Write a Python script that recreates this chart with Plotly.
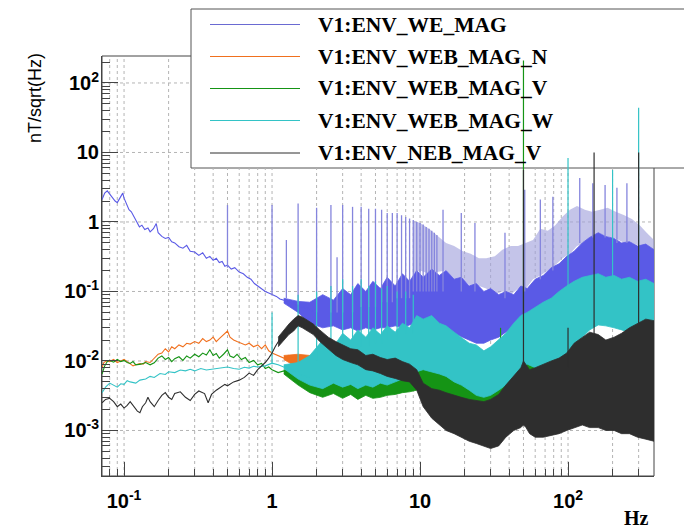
import plotly.graph_objects as go

# ---------------- data ----------------
SERIES_NAMES = ["V1:ENV_WE_MAG", "V1:ENV_WEB_MAG_N", "V1:ENV_WEB_MAG_V",
                "V1:ENV_WEB_MAG_W", "V1:ENV_NEB_MAG_V"]

X_TICK_VALS = [0.1, 1, 10, 100]
X_TICK_TEXT = ["10<sup>-1</sup>", "1", "10", "10<sup>2</sup>"]
Y_TICK_VALS = [1e-3, 1e-2, 1e-1, 1, 10, 100]
Y_TICK_TEXT = ["10<sup>-3</sup>", "10<sup>-2</sup>", "10<sup>-1</sup>", "1", "10", "10<sup>2</sup>"]

# V1:ENV_WE_MAG  low-frequency trace
WE_LF_F = [0.071, 0.074, 0.077, 0.08, 0.083, 0.087, 0.09, 0.094, 0.098, 0.1,
           0.104, 0.108, 0.112, 0.117, 0.122, 0.127, 0.132, 0.138, 0.145, 0.15,
           0.158, 0.165, 0.17, 0.18, 0.19, 0.2, 0.21, 0.22, 0.235, 0.25,
           0.265, 0.28, 0.3, 0.32, 0.34, 0.36, 0.38, 0.4, 0.42, 0.44,
           0.46, 0.48, 0.5, 0.53, 0.56, 0.6, 0.64, 0.68, 0.72, 0.76,
           0.8, 0.85, 0.9, 0.95, 1.0, 1.07, 1.13, 1.2, 1.3, 1.4,
           1.5, 1.6, 1.75, 1.9]
WE_LF_V = [2.1, 2.6, 2.8, 2.5, 2.3, 2.0, 1.9, 2.2, 2.6, 2.2,
           1.8, 1.5, 1.4, 1.2, 1.0, 0.85, 0.9, 0.78, 0.82, 0.72,
           0.8, 0.95, 0.7, 0.62, 0.58, 0.6, 0.52, 0.5, 0.44, 0.42,
           0.46, 0.38, 0.37, 0.33, 0.36, 0.3, 0.32, 0.28, 0.3, 0.26,
           0.27, 0.23, 0.24, 0.21, 0.22, 0.19, 0.18, 0.16, 0.15, 0.13,
           0.12, 0.11, 0.1, 0.095, 0.09, 0.085, 0.078, 0.075, 0.07, 0.068,
           0.062, 0.06, 0.057, 0.052]

# dense high-frequency part: frequencies shared by 4 series envelopes
BAND_F = [1.2, 1.5, 1.8, 2.2, 2.6, 3.0, 3.4, 3.8, 4.3, 4.8, 5.4, 6.0,
          6.8, 7.6, 8.5, 9.5, 10.5, 12, 13.5, 15, 17, 19,
          21.5, 24, 27, 30, 34, 38, 43, 48, 53, 60,
          68, 77, 87, 98, 110, 125, 140, 160, 180, 205,
          230, 260, 295, 335, 381]
WE_BAND_HI = [0.08, 0.072, 0.07, 0.09, 0.075, 0.11, 0.09, 0.13, 0.1, 0.14, 0.11, 0.16,
              0.12, 0.18, 0.14, 0.2, 0.16, 0.21, 0.17, 0.2, 0.15, 0.16,
              0.12, 0.13, 0.1, 0.11, 0.09, 0.1, 0.09, 0.12, 0.11, 0.15,
              0.17, 0.22, 0.25, 0.32, 0.38, 0.5, 0.6, 0.7, 0.62, 0.58,
              0.5, 0.52, 0.45, 0.48, 0.4]
WE_BAND_LO = [0.068, 0.05, 0.035, 0.03, 0.032, 0.028, 0.03, 0.027, 0.03, 0.028, 0.03, 0.03,
              0.032, 0.03, 0.033, 0.035, 0.033, 0.03, 0.03, 0.028, 0.025, 0.022,
              0.02, 0.018, 0.018, 0.02, 0.022, 0.026, 0.03, 0.035, 0.035, 0.038,
              0.04, 0.045, 0.05, 0.055, 0.06, 0.065, 0.07, 0.07, 0.065, 0.06,
              0.055, 0.05, 0.045, 0.04, 0.035]

# upper comb of WE_MAG harmonic lines (light part)
COMB_F = [9, 10, 11.5, 13, 15, 17, 19.5, 22, 25, 28,
          32, 36, 41, 46, 52, 58, 65, 73, 82, 92,
          103, 115, 130, 145, 165, 185, 210, 240, 270, 305,
          340, 381]
COMB_HI = [1.05, 0.97, 0.8, 0.65, 0.5, 0.45, 0.38, 0.35, 0.3, 0.3,
           0.32, 0.4, 0.45, 0.45, 0.5, 0.55, 0.8, 0.75, 0.9, 1.2,
           1.5, 1.7, 1.5, 1.4, 1.5, 1.6, 1.4, 1.25, 1.1, 0.9,
           0.7, 0.55]
COMB_LO = [0.18, 0.2, 0.18, 0.19, 0.2, 0.15, 0.15, 0.12, 0.12, 0.11,
           0.09, 0.1, 0.09, 0.11, 0.11, 0.15, 0.17, 0.2, 0.24, 0.3,
           0.35, 0.45, 0.5, 0.6, 0.68, 0.62, 0.58, 0.5, 0.5, 0.45,
           0.47, 0.4]

WE_SPK_F = [0.5, 1.0, 1.25, 1.5, 2.0, 2.5, 2.75, 3.0, 3.5, 4.0,
            4.5, 5.0, 5.5, 6.0, 6.5, 7.0, 7.5, 8.0, 8.5, 9.0,
            9.5, 10.0, 10.5, 11.0, 11.5, 12.0, 12.5, 13.0, 14.3, 19.0,
            23.5, 37.5, 51.0, 65.0, 79.0, 120.0, 147.0, 178.0, 214.0, 250.0]
WE_SPK_HI = [1.75, 1.75, 0.55, 1.85, 1.6, 1.75, 0.31, 1.75, 1.65, 1.65,
             1.55, 1.55, 1.5, 1.35, 1.35, 1.35, 1.25, 1.18, 1.12, 1.07,
             1.0, 0.97, 0.92, 0.85, 0.8, 0.75, 0.7, 0.65, 1.5, 1.35,
             0.97, 0.7, 2.9, 2.1, 2.3, 4.3, 3.6, 3.4, 3.1, 3.6]
WE_SPK_LO = [0.22, 0.09, 0.08, 0.065, 0.05, 0.05, 0.05, 0.05, 0.05, 0.06,
             0.06, 0.06, 0.07, 0.07, 0.07, 0.08, 0.08, 0.08, 0.08, 0.1,
             0.1, 0.1, 0.1, 0.1, 0.1, 0.1, 0.1, 0.1, 0.1, 0.1,
             0.1, 0.08, 0.1, 0.15, 0.2, 0.5, 0.6, 0.6, 0.5, 0.5]

# V1:ENV_WEB_MAG_N
ORN_LF_F = [0.071, 0.073, 0.076, 0.08, 0.085, 0.09, 0.095, 0.1, 0.105, 0.11,
            0.115, 0.12, 0.128, 0.135, 0.14, 0.15, 0.16, 0.17, 0.18, 0.19,
            0.2, 0.21, 0.22, 0.235, 0.25, 0.265, 0.28, 0.3, 0.32, 0.34,
            0.36, 0.38, 0.4, 0.42, 0.44, 0.47, 0.5, 0.52, 0.55, 0.58,
            0.62, 0.66, 0.7, 0.75, 0.8, 0.85, 0.9, 0.95, 1.0, 1.1,
            1.2, 1.3, 1.4, 1.5, 1.6, 1.8]
ORN_LF_V = [0.008, 0.0095, 0.01, 0.0098, 0.0105, 0.0095, 0.01, 0.0105, 0.0098, 0.0092,
            0.0085, 0.0088, 0.0092, 0.009, 0.0098, 0.0095, 0.011, 0.0125, 0.013, 0.015,
            0.0135, 0.016, 0.015, 0.017, 0.016, 0.018, 0.0175, 0.019, 0.018, 0.021,
            0.019, 0.02, 0.022, 0.019, 0.021, 0.024, 0.027, 0.022, 0.02, 0.019,
            0.018, 0.017, 0.018, 0.016, 0.017, 0.015, 0.017, 0.014, 0.013, 0.012,
            0.011, 0.012, 0.0105, 0.0115, 0.01, 0.0105]
ORN_BAND_HI = [0.012, 0.0125, 0.012, 0.013, 0.011, 0.012, 0.0105, 0.011, 0.0095, 0.01, 0.0092, 0.0098,
               0.0105, 0.011, 0.012, 0.0115, 0.011, 0.0098, 0.0088, 0.0078, 0.0068, 0.006,
               0.0055, 0.0052, 0.0055, 0.006, 0.007, 0.0085, 0.01, 0.012, 0.016, 0.013,
               0.011, 0.011, 0.012, 0.014, 0.015, 0.016, 0.017, 0.018, 0.018, 0.017,
               0.017, 0.016, 0.016, 0.015, 0.015]
ORN_BAND_LO = [0.0105, 0.008, 0.0055, 0.005, 0.0052, 0.0048, 0.005, 0.0046, 0.0048, 0.0045, 0.0046, 0.0044,
               0.0045, 0.0046, 0.0045, 0.0044, 0.004, 0.0035, 0.003, 0.0026, 0.0022, 0.002,
               0.0018, 0.0017, 0.0017, 0.0019, 0.0023, 0.003, 0.004, 0.005, 0.0055, 0.005,
               0.0045, 0.0045, 0.005, 0.0055, 0.006, 0.0065, 0.0065, 0.0065, 0.0065, 0.006,
               0.006, 0.0058, 0.0056, 0.0054, 0.0052]

# V1:ENV_WEB_MAG_V
GRN_LF_F = [0.071, 0.074, 0.077, 0.08, 0.085, 0.09, 0.095, 0.1, 0.105, 0.11,
            0.115, 0.12, 0.13, 0.14, 0.15, 0.16, 0.17, 0.18, 0.19, 0.2,
            0.21, 0.22, 0.235, 0.25, 0.265, 0.28, 0.3, 0.32, 0.34, 0.36,
            0.38, 0.4, 0.42, 0.44, 0.47, 0.5, 0.52, 0.55, 0.58, 0.62,
            0.66, 0.7, 0.75, 0.8, 0.85, 0.9, 0.95, 1.0, 1.1, 1.2,
            1.3, 1.4, 1.5, 1.6, 1.8]
GRN_LF_V = [0.0065, 0.0085, 0.0098, 0.0102, 0.0096, 0.0105, 0.0098, 0.0102, 0.0095, 0.0092,
            0.0098, 0.0088, 0.009, 0.0095, 0.0088, 0.0094, 0.011, 0.0118, 0.0105, 0.0112,
            0.0098, 0.0108, 0.0115, 0.0102, 0.0118, 0.011, 0.0125, 0.0115, 0.013, 0.0122,
            0.0145, 0.012, 0.0128, 0.011, 0.0125, 0.0145, 0.0118, 0.0112, 0.0125, 0.0105,
            0.0112, 0.0095, 0.0102, 0.0088, 0.0092, 0.0078, 0.0082, 0.0075, 0.0068, 0.0072,
            0.006, 0.0065, 0.0055, 0.0058, 0.0048]
GRN_BAND_HI = [0.0075, 0.0068, 0.0075, 0.0085, 0.0072, 0.0082, 0.007, 0.0078, 0.0068, 0.0075, 0.0072, 0.0085,
               0.009, 0.011, 0.012, 0.014, 0.016, 0.02, 0.018, 0.014, 0.011, 0.009,
               0.008, 0.0075, 0.008, 0.0085, 0.01, 0.012, 0.015, 0.018, 0.02, 0.016,
               0.015, 0.016, 0.018, 0.014, 0.015, 0.016, 0.016, 0.017, 0.016, 0.016,
               0.016, 0.015, 0.015, 0.015, 0.014]
GRN_BAND_LO = [0.0065, 0.0045, 0.0035, 0.003, 0.0034, 0.0029, 0.0033, 0.0028, 0.0032, 0.0029, 0.003, 0.0032,
               0.0033, 0.0035, 0.0036, 0.0038, 0.0036, 0.0032, 0.003, 0.0026, 0.0022, 0.002,
               0.0018, 0.0017, 0.0017, 0.0018, 0.0022, 0.0028, 0.0035, 0.0045, 0.005, 0.0045,
               0.0042, 0.0045, 0.005, 0.0055, 0.006, 0.0065, 0.0068, 0.007, 0.0068, 0.0065,
               0.0062, 0.006, 0.0058, 0.0055, 0.0052]
GRN_SPK_F = [12.5, 13.0, 35.0, 50.0]
GRN_SPK_HI = [0.04, 0.035, 0.03, 210.0]
GRN_SPK_LO = [0.012, 0.012, 0.01, 0.012]

# V1:ENV_WEB_MAG_W
CYN_LF_F = [0.071, 0.075, 0.08, 0.085, 0.09, 0.095, 0.1, 0.105, 0.11, 0.12,
            0.128, 0.14, 0.15, 0.16, 0.175, 0.19, 0.2, 0.22, 0.24, 0.26,
            0.28, 0.3, 0.33, 0.36, 0.4, 0.45, 0.5, 0.55, 0.6, 0.65,
            0.7, 0.75, 0.8, 0.9, 1.0, 1.1, 1.2, 1.3, 1.4, 1.5,
            1.6, 1.8]
CYN_LF_V = [0.0035, 0.0042, 0.0048, 0.0045, 0.0042, 0.0047, 0.0046, 0.0052, 0.005, 0.0048,
            0.0053, 0.0055, 0.006, 0.0058, 0.0066, 0.0064, 0.007, 0.0068, 0.0074, 0.0072,
            0.0076, 0.0072, 0.0078, 0.0074, 0.0076, 0.008, 0.0082, 0.0078, 0.0076, 0.0081,
            0.0079, 0.0084, 0.0082, 0.0085, 0.0093, 0.0088, 0.0082, 0.008, 0.0072, 0.0068,
            0.0062, 0.0058]
CYN_BAND_HI = [0.0088, 0.0095, 0.012, 0.02, 0.016, 0.025, 0.02, 0.028, 0.022, 0.03, 0.024, 0.032,
               0.026, 0.035, 0.03, 0.045, 0.04, 0.045, 0.035, 0.032, 0.026, 0.022,
               0.018, 0.017, 0.014, 0.016, 0.02, 0.025, 0.035, 0.045, 0.05, 0.06,
               0.07, 0.08, 0.1, 0.12, 0.14, 0.16, 0.17, 0.18, 0.16, 0.17,
               0.15, 0.16, 0.14, 0.15, 0.13]
CYN_BAND_LO = [0.0078, 0.0055, 0.0045, 0.004, 0.0048, 0.0042, 0.0046, 0.004, 0.0045, 0.0042, 0.0048, 0.0045,
               0.005, 0.0055, 0.006, 0.007, 0.0075, 0.007, 0.0065, 0.006, 0.005, 0.0045,
               0.0038, 0.0032, 0.003, 0.0032, 0.0038, 0.0045, 0.006, 0.008, 0.009, 0.008,
               0.008, 0.008, 0.009, 0.012, 0.016, 0.022, 0.028, 0.033, 0.032, 0.03,
               0.028, 0.026, 0.024, 0.022, 0.02]
CYN_SPK_F = [1.0, 1.5, 2.0, 2.5, 3.0, 3.5, 4.0, 4.5, 5.0, 5.5,
             6.0, 7.0, 8.0, 9.0, 100.0, 200.0, 300.0]
CYN_SPK_HI = [0.05, 0.09, 0.1, 0.12, 0.15, 0.12, 0.15, 0.12, 0.14, 0.11,
              0.12, 0.1, 0.1, 0.09, 8.3, 5.6, 44.0]
CYN_SPK_LO = [0.009, 0.007, 0.01, 0.012, 0.015, 0.015, 0.016, 0.016, 0.018, 0.018,
              0.02, 0.02, 0.025, 0.025, 0.12, 0.15, 0.13]

# V1:ENV_NEB_MAG_V
BLK_LF_F = [0.071, 0.075, 0.08, 0.085, 0.09, 0.095, 0.1, 0.105, 0.11, 0.117,
            0.123, 0.128, 0.133, 0.14, 0.145, 0.15, 0.16, 0.17, 0.18, 0.19,
            0.2, 0.21, 0.22, 0.24, 0.26, 0.28, 0.3, 0.32, 0.35, 0.37,
            0.39, 0.42, 0.45, 0.48, 0.5, 0.55, 0.6, 0.65, 0.7, 0.75,
            0.8, 0.85, 0.9, 0.95, 1.0, 1.05, 1.1, 1.15]
BLK_LF_V = [0.0025, 0.0028, 0.0029, 0.0026, 0.0022, 0.0024, 0.0021, 0.0023, 0.0026, 0.0022,
            0.0019, 0.0018, 0.0022, 0.0025, 0.003, 0.0026, 0.0022, 0.0027, 0.0032, 0.0035,
            0.003, 0.0028, 0.0034, 0.0036, 0.003, 0.0027, 0.0033, 0.0037, 0.0034, 0.0025,
            0.0033, 0.0038, 0.0042, 0.0046, 0.0044, 0.005, 0.0053, 0.0058, 0.0067, 0.0062,
            0.0075, 0.0085, 0.0095, 0.011, 0.013, 0.016, 0.019, 0.022]
BLK_BAND_F = [1.1, 1.2, 1.3, 1.4, 1.5, 1.6, 1.75, 1.9, 2.1, 2.4,
              2.7, 3.0, 3.4, 3.8, 4.3, 4.8, 5.4, 6.0, 6.8, 7.6,
              8.5, 9.5, 10.5, 12, 13.5, 15, 17, 19, 21.5, 24,
              27, 30, 34, 38, 43, 48, 50, 52, 55, 60,
              68, 77, 87, 98, 110, 125, 140, 160, 180, 205,
              230, 260, 295, 335, 381]
BLK_BAND_HI = [0.022, 0.028, 0.034, 0.04, 0.045, 0.043, 0.038, 0.034, 0.028, 0.022,
               0.019, 0.017, 0.015, 0.0145, 0.012, 0.0125, 0.0112, 0.0105, 0.011, 0.0098,
               0.009, 0.0075, 0.0048, 0.004, 0.0038, 0.0035, 0.0032, 0.003, 0.0028, 0.0027,
               0.0026, 0.0028, 0.0033, 0.0045, 0.006, 0.008, 0.01, 0.009, 0.0075, 0.008,
               0.009, 0.01, 0.011, 0.013, 0.018, 0.022, 0.026, 0.024, 0.02, 0.022,
               0.025, 0.03, 0.035, 0.04, 0.038]
BLK_BAND_LO = [0.016, 0.02, 0.024, 0.027, 0.032, 0.03, 0.027, 0.024, 0.019, 0.015,
               0.012, 0.0105, 0.0095, 0.0088, 0.0075, 0.0072, 0.0066, 0.006, 0.0056, 0.0052,
               0.005, 0.0038, 0.0022, 0.0015, 0.0012, 0.001, 0.0009, 0.0008, 0.0007, 0.00065,
               0.0006, 0.00055, 0.0006, 0.0008, 0.001, 0.0011, 0.0012, 0.0011, 0.0009, 0.0008,
               0.0008, 0.00085, 0.0009, 0.001, 0.0011, 0.0012, 0.0011, 0.0011, 0.001, 0.001,
               0.0009, 0.0009, 0.0008, 0.00075, 0.0007]
BLK_SPK_F = [50.0, 100.0, 150.0, 300.0]
BLK_SPK_HI = [5.6, 0.03, 10.0, 10.0]
BLK_SPK_LO = [0.008, 0.008, 0.02, 0.035]

# ---------------- styling ----------------
C_BLUE = "#5a5ae6"
C_LAV = "rgba(160,160,220,0.62)"
C_SPK = "#8585dd"
C_ORN = "#f0701e"
C_GRN = "#159415"
C_CYN = "#33c3c6"
C_BLK = "#2e2e2e"
SERIES_COLORS = ["#6a6ad2", C_ORN, C_GRN, C_CYN, C_BLK]

# page-pixel geometry of the plot frame (the page body adds an 8 px margin)
OFF = 8
FW, FH = 692 - OFF, 528 - OFF
L, T, W, H = 102, 56, 552, 420
X_RANGE = [-1.149, 2.581]
Y_RANGE = [-3.655, 2.388]


def pxx(xp):
    return (xp - L) / W


def pxy(yp):
    return (T + H - yp) / H


def data_x(xp):
    return 10 ** (X_RANGE[0] + (xp - L) / W * (X_RANGE[1] - X_RANGE[0]))


def data_y(yp):
    return 10 ** (Y_RANGE[0] + (T + H - yp) / H * (Y_RANGE[1] - Y_RANGE[0]))


fig = go.Figure()

# dotted grid (stops under the legend box, as in the reference)
LEG_X0, LEG_X1, LEG_Y0, LEG_Y1 = 191, 700, 9, 168
f_leg = data_x(LEG_X0)
v_leg = data_y(LEG_Y1)
xmin, xmax = 10 ** X_RANGE[0], 10 ** X_RANGE[1]
ymin, ymax = 10 ** Y_RANGE[0], 10 ** Y_RANGE[1]
gx, gy = [], []
for e in (-2, -1, 0, 1, 2):
    for m in range(1, 10):
        f = m * 10 ** e
        if xmin < f < xmax:
            top = v_leg if f >= f_leg else ymax
            gx += [f, f, None]
            gy += [ymin, top, None]
for v in Y_TICK_VALS:
    right = f_leg if v >= v_leg else xmax
    gx += [xmin, right, None]
    gy += [v, v, None]
fig.add_trace(go.Scatter(x=gx, y=gy, mode="lines", hoverinfo="skip",
                         line=dict(color="#b4b4b4", width=1, dash="dot")))


def add_band(f, lo, hi, color, lw=0.8):
    fig.add_trace(go.Scatter(x=list(f) + list(f)[::-1], y=list(hi) + list(lo)[::-1],
                             mode="lines", fill="toself", fillcolor=color,
                             line=dict(color=color, width=lw), hoverinfo="skip"))


def add_line(f, v, color, width=1.0):
    fig.add_trace(go.Scatter(x=f, y=v, mode="lines", hoverinfo="skip",
                             line=dict(color=color, width=width)))


def add_spikes(f, lo, hi, color, width=1.3):
    xs, ys = [], []
    for a, b, c in zip(f, lo, hi):
        xs += [a, a, None]
        ys += [b, c, None]
    fig.add_trace(go.Scatter(x=xs, y=ys, mode="lines", hoverinfo="skip",
                             line=dict(color=color, width=width)))


# WE_MAG
add_band(COMB_F, COMB_LO, COMB_HI, C_LAV, lw=0)
add_band(BAND_F, WE_BAND_LO, WE_BAND_HI, C_BLUE)
add_line(WE_LF_F, WE_LF_V, C_BLUE, 1.1)
add_spikes(WE_SPK_F, WE_SPK_LO, WE_SPK_HI, C_SPK)
# WEB_MAG_N
add_band(BAND_F, ORN_BAND_LO, ORN_BAND_HI, C_ORN)
add_line(ORN_LF_F, ORN_LF_V, C_ORN, 1.1)
# WEB_MAG_V
add_band(BAND_F, GRN_BAND_LO, GRN_BAND_HI, C_GRN)
add_line(GRN_LF_F, GRN_LF_V, C_GRN, 1.1)
add_spikes(GRN_SPK_F, GRN_SPK_LO, GRN_SPK_HI, C_GRN, 1.2)
# WEB_MAG_W
add_band(BAND_F, CYN_BAND_LO, CYN_BAND_HI, C_CYN)
add_line(CYN_LF_F, CYN_LF_V, C_CYN, 1.1)
add_spikes(CYN_SPK_F, CYN_SPK_LO, CYN_SPK_HI, C_CYN, 1.2)
# NEB_MAG_V
add_band(BLK_BAND_F, BLK_BAND_LO, BLK_BAND_HI, C_BLK)
add_line(BLK_LF_F, BLK_LF_V, C_BLK, 1.1)
add_spikes(BLK_SPK_F, BLK_SPK_LO, BLK_SPK_HI, C_BLK, 1.2)

tick_font = dict(family="Liberation Sans, Arial, sans-serif", size=20, color="black", weight="bold")
minor_x = [m * 10 ** e for e in (-2, -1, 0, 1, 2) for m in range(2, 10)
           if xmin < m * 10 ** e < xmax]
minor_y = [m * 10 ** e for e in (-4, -3, -2, -1, 0, 1, 2) for m in range(2, 10)
           if ymin < m * 10 ** e < ymax]

fig.update_layout(
    width=FW, height=FH, autosize=False,
    margin=dict(l=L - OFF, r=FW - (L - OFF) - W, t=T - OFF, b=FH - (T - OFF) - H),
    paper_bgcolor="white", plot_bgcolor="white", showlegend=False,
    xaxis=dict(type="log", range=X_RANGE, showgrid=False, zeroline=False,
               showline=True, linecolor="#444", linewidth=1, mirror=False,
               ticks="inside", ticklen=14, tickwidth=1, tickcolor="#444",
               tickvals=X_TICK_VALS, ticktext=X_TICK_TEXT, tickfont=tick_font,
               ticklabelstandoff=7,
               minor=dict(tickvals=minor_x, ticks="inside", ticklen=7,
                          tickcolor="#444", showgrid=False)),
    yaxis=dict(type="log", range=Y_RANGE, showgrid=False, zeroline=False,
               showline=True, linecolor="#444", linewidth=1, mirror=False,
               ticks="inside", ticklen=16, tickwidth=1, tickcolor="#444",
               tickvals=Y_TICK_VALS, ticktext=Y_TICK_TEXT, tickfont=tick_font,
               ticklabelstandoff=-2,
               minor=dict(tickvals=minor_y, ticks="inside", ticklen=8,
                          tickcolor="#444", showgrid=False)),
)

shapes = [
    dict(type="rect", xref="paper", yref="paper", x0=0, x1=1, y0=0, y1=1,
         line=dict(color="#444", width=1), fillcolor="rgba(0,0,0,0)", layer="below"),
    dict(type="rect", xref="paper", yref="paper", x0=pxx(LEG_X0), x1=pxx(LEG_X1),
         y0=pxy(LEG_Y1), y1=pxy(LEG_Y0), line=dict(color="#555", width=1),
         fillcolor="white", layer="below"),
]
annotations = []
ROW_Y = [24.5, 56.5, 88.5, 120.5, 153]
for name, col, ry in zip(SERIES_NAMES, SERIES_COLORS, ROW_Y):
    shapes.append(dict(type="line", xref="paper", yref="paper", x0=pxx(210), x1=pxx(300),
                       y0=pxy(ry), y1=pxy(ry), line=dict(color=col, width=1), layer="above"))
    annotations.append(dict(text=name, xref="paper", yref="paper", x=pxx(316), y=pxy(ry),
                            xanchor="left", yanchor="middle", showarrow=False,
                            font=dict(family="Liberation Serif, Times New Roman, serif",
                                      size=21.5, color="black", weight="bold")))
annotations.append(dict(text="nT/sqrt(Hz)", xref="paper", yref="paper", x=pxx(35), y=pxy(98),
                        xanchor="center", yanchor="middle", textangle=-90, showarrow=False,
                        font=dict(family="Liberation Sans, Arial, sans-serif", size=18, color="black")))
annotations.append(dict(text="Hz", xref="paper", yref="paper", x=pxx(636), y=pxy(518),
                        xanchor="center", yanchor="middle", showarrow=False,
                        font=dict(family="Liberation Serif, Times New Roman, serif",
                                  size=20, color="black", weight="bold")))
fig.update_layout(shapes=shapes, annotations=annotations)

fig.write_html("out.html")
